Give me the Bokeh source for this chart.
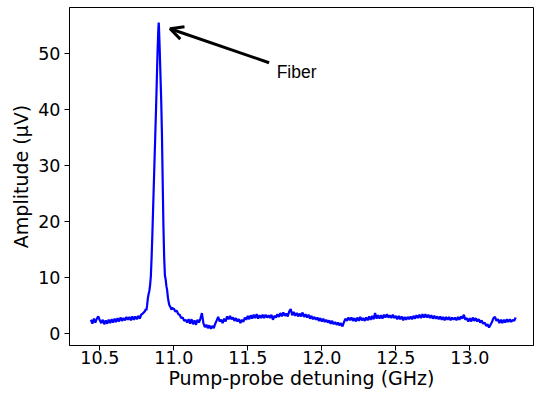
import numpy as np
from bokeh.plotting import figure
from bokeh.models import (ColumnDataSource, Range1d, FixedTicker, NumeralTickFormatter,
                          Arrow, OpenHead, Label)
from bokeh.embed import file_html
from bokeh.resources import INLINE

# ---- data ----
# baseline before the peak, sampled every 0.01 GHz starting at 10.44 GHz
amp_pre = [2.4, 1.7, 2.6, 1.9, 2.6, 3.0,
           2.3, 1.8, 2.4, 1.6, 2.3, 1.7, 2.4, 1.8, 2.5, 1.9,
           2.6, 2.0, 2.7, 2.1, 2.8, 2.2, 2.7, 2.3, 2.9, 2.4,
           2.9, 2.3, 3.0, 2.4, 3.0, 2.5, 3.1, 2.6, 3.3, 3.5,
           3.8]
pre_start = 10.44

# fiber Brillouin peak, finer sampling
freq_peak = [10.805, 10.81, 10.815, 10.82, 10.825, 10.83, 10.835, 10.84, 10.845, 10.85,
             10.855, 10.86, 10.865, 10.87, 10.875, 10.88, 10.885, 10.89, 10.895, 10.898,
             10.90, 10.905, 10.91, 10.915, 10.92, 10.925, 10.93, 10.935, 10.94, 10.945,
             10.95, 10.955, 10.96, 10.965, 10.97, 10.975, 10.98, 10.985, 10.99, 10.995]
amp_peak = [3.9, 4.3, 4.1, 5.0, 6.3, 7.0, 7.6, 8.6, 10.2, 13.5,
            17.5, 22.0, 26.5, 31.0, 35.5, 40.0, 45.0, 50.0, 54.0, 55.45,
            54.5, 50.5, 46.0, 41.5, 35.5, 27.0, 19.0, 13.5, 10.3, 9.6,
            8.4, 7.7, 6.4, 5.6, 5.0, 4.8, 4.5, 4.2, 4.6, 4.3]

# baseline after the peak, sampled every 0.01 GHz starting at 11.00 GHz
amp_post = [4.4, 3.9, 4.0, 3.4, 3.3, 2.7, 2.8, 2.2, 2.4, 1.9,
            2.5, 1.7, 2.5, 1.6, 2.3, 1.5, 2.4, 1.9, 2.6, 3.6,
            1.8, 1.1, 1.5, 0.9, 1.4, 0.8, 1.3, 0.9, 1.7, 2.3,
            2.9, 2.1, 2.4, 1.8, 2.6, 2.1, 3.0, 2.5, 3.1, 2.5,
            2.8, 2.2, 2.7, 2.1, 2.5, 1.8, 2.4, 2.0, 2.8, 2.4,
            3.1, 2.5, 3.2, 2.6, 3.3, 2.7, 3.4, 2.6, 3.2, 2.7,
            3.3, 2.7, 3.3, 2.8, 3.2, 2.7, 3.3, 2.4, 3.1, 2.8,
            3.4, 2.9, 3.6, 3.0, 3.7, 3.1, 3.5, 3.0, 3.9, 4.3,
            3.2, 3.8, 3.1, 3.6, 3.0, 3.5, 3.0, 3.7, 2.9, 3.4,
            2.8, 3.3, 2.6, 3.1, 2.5, 2.9, 2.4, 2.8, 2.2, 2.7,
            2.1, 2.6, 2.0, 2.4, 1.9, 2.3, 1.7, 2.2, 1.6, 2.0,
            1.5, 1.9, 1.4, 1.8, 1.2, 2.0, 2.6, 2.2, 2.8, 2.3,
            2.8, 2.2, 2.7, 2.1, 2.8, 2.2, 2.9, 2.3, 2.7, 2.2,
            2.8, 2.3, 3.0, 2.4, 3.1, 2.5, 3.6, 2.6, 3.2, 2.6,
            3.2, 2.6, 3.3, 2.8, 3.4, 2.8, 3.2, 2.7, 3.3, 2.7,
            3.1, 2.5, 3.1, 2.5, 3.0, 2.3, 2.9, 2.4, 2.9, 2.5,
            3.0, 2.5, 3.1, 2.6, 3.2, 2.7, 3.3, 2.7, 3.4, 2.8,
            3.4, 2.8, 3.3, 2.7, 3.2, 2.6, 3.1, 2.6, 3.0, 2.5,
            3.0, 2.4, 2.9, 2.3, 2.9, 2.4, 2.9, 2.3, 2.8, 2.4,
            2.8, 2.3, 2.9, 2.4, 3.0, 2.6, 3.3, 2.4, 2.7, 2.1,
            2.7, 2.1, 2.8, 2.2, 2.7, 2.1, 2.5, 1.9, 2.3, 1.7,
            1.9, 1.3, 1.6, 1.0, 1.5, 2.0, 2.7, 2.9, 2.2, 2.5,
            1.8, 2.4, 1.8, 2.4, 1.9, 2.5, 2.0, 2.5, 2.0, 2.4,
            2.2, 2.8]
post_start = 11.00
step = 0.01

x_ticks = [10.5, 11.0, 11.5, 12.0, 12.5, 13.0]
y_ticks = [0, 10, 20, 30, 40, 50]

annot_text = "Fiber"
annot_tip = (10.975, 54.36)
annot_tail = (11.644, 48.3)
annot_text_pos = (11.695, 48.4)

# ---- assemble ----
freq_pre = [round(pre_start + step * i, 3) for i in range(len(amp_pre))]
freq_post = [round(post_start + step * i, 3) for i in range(len(amp_post))]
freq = freq_pre + freq_peak + freq_post
amp = amp_pre + amp_peak + amp_post
src = ColumnDataSource(dict(x=freq, y=amp))

FONT = "DejaVu Sans"

p = figure(width=534, height=393, output_backend="svg", toolbar_location=None,
           x_range=Range1d(10.2953, 13.4304), y_range=Range1d(-2.196, 58.16),
           min_border_left=69, min_border_right=1, min_border_top=7, min_border_bottom=48)
p.background_fill_color = "white"
p.border_fill_color = "white"
p.outline_line_color = "black"
p.outline_line_width = 1
p.grid.visible = False

p.line("x", "y", source=src, line_color="#0000ff", line_width=2.2)

for ax in (p.xaxis[0], p.yaxis[0]):
    ax.axis_line_color = "black"
    ax.major_tick_line_color = "black"
    ax.major_tick_in = 0
    ax.major_tick_out = 5
    ax.minor_tick_line_color = None
    ax.major_label_text_font = FONT
    ax.major_label_text_font_size = "17.5px"
    ax.major_label_text_color = "black"
    ax.axis_label_text_font = FONT
    ax.axis_label_text_font_size = "19px"
    ax.axis_label_text_font_style = "normal"
    ax.axis_label_text_color = "black"

p.xaxis.ticker = FixedTicker(ticks=x_ticks)
p.yaxis.ticker = FixedTicker(ticks=y_ticks)
p.xaxis.formatter = NumeralTickFormatter(format="0.0")
p.xaxis.axis_label = "Pump-probe detuning (GHz)"
p.yaxis.axis_label = "Amplitude (µV)"
p.xaxis.major_label_standoff = 0
p.yaxis.major_label_standoff = 4
p.xaxis.axis_label_standoff = 0
p.yaxis.axis_label_standoff = 3

p.add_layout(Arrow(end=OpenHead(size=13, line_width=3, line_color="black"),
                   x_start=annot_tail[0], y_start=annot_tail[1],
                   x_end=annot_tip[0], y_end=annot_tip[1],
                   line_width=3, line_color="black"))
p.add_layout(Label(x=annot_text_pos[0], y=annot_text_pos[1], text=annot_text,
                   text_font="Liberation Sans", text_font_size="17.5px",
                   text_color="black", text_baseline="top", text_align="left"))

open("out.html", "w").write(file_html(p, INLINE))
